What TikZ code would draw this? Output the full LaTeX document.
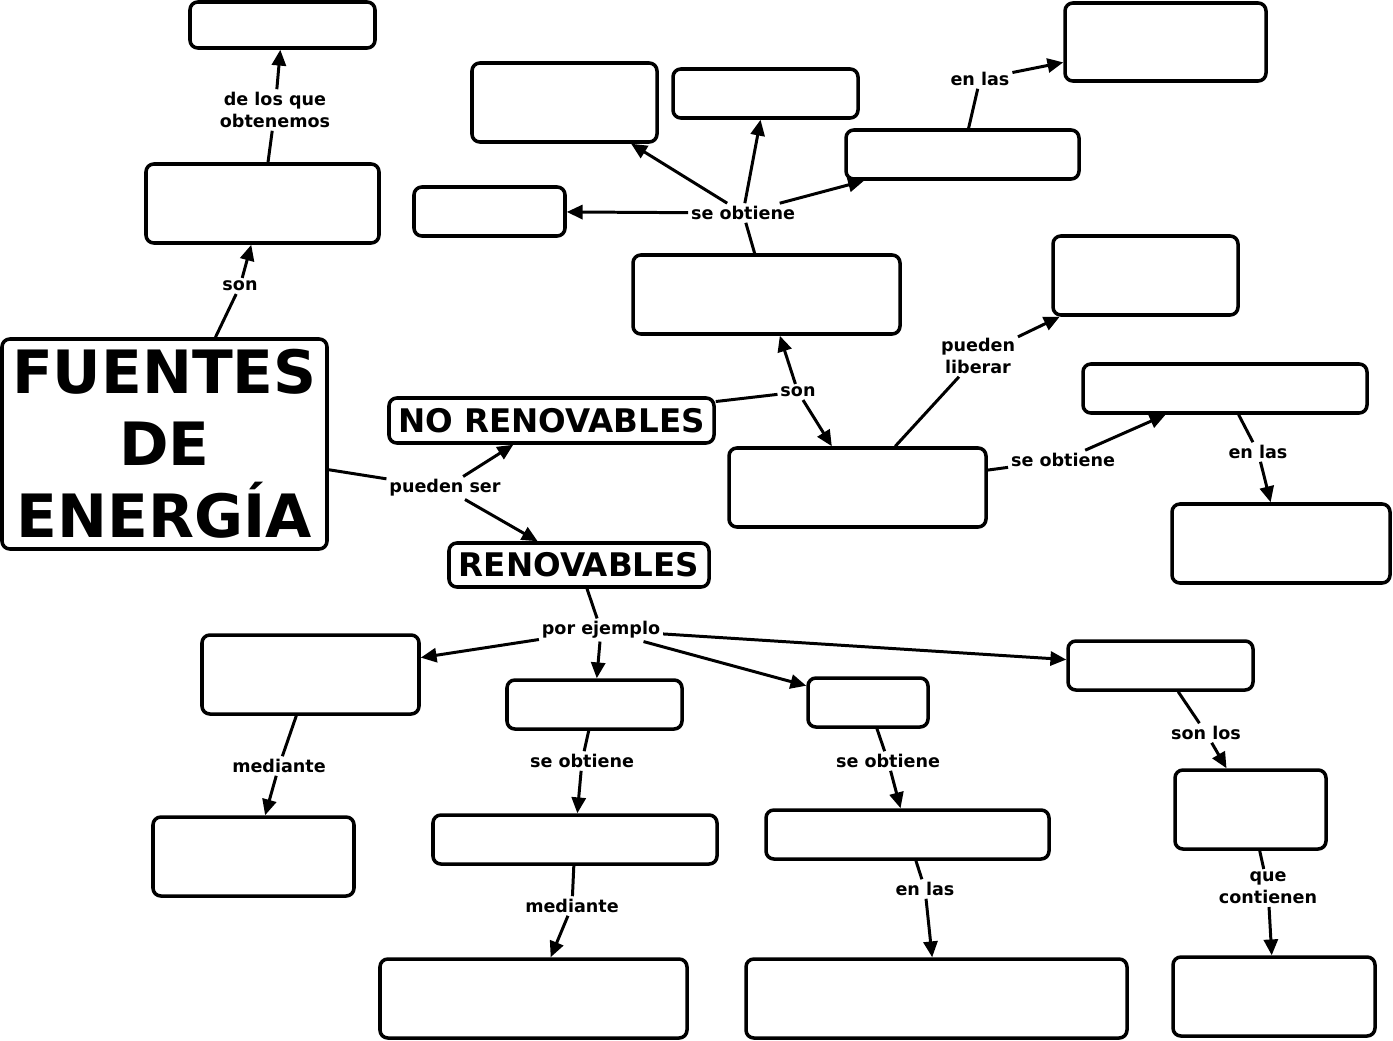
\documentclass[tikz,border=0pt]{standalone}
\usepackage{fontspec}
\setmainfont{DejaVu Sans}
\usetikzlibrary{arrows.meta}
\newcommand\bx[5]{\node[box, minimum width={(#4-#2)*0.02cm}, minimum height={(#5-#3)*0.02cm}] (#1) at ({(#2+#4)/2},{(#3+#5)/2}) {};}
\tikzset{
  box/.style={draw, line width=2pt, rounded corners=4.5pt, inner sep=0pt, fill=white},
  lbl/.style={font=\bfseries\fontsize{10}{12.5}\selectfont, inner sep=1.5pt, align=center},
  con/.style={line width=1.7pt},
  arr/.style={line width=1.7pt, -{Triangle[length=9pt,width=8pt]}}
}
\begin{document}
\begin{tikzpicture}[x=0.02cm,y=-0.02cm]
\useasboundingbox (0,0) rectangle (1393,1041);
% boxes
\bx{A}{190}{2}{375}{48}
\bx{B}{146}{164}{379}{243}
\node[box, minimum width={325*0.02cm}, minimum height={210*0.02cm}, align=center, font=\bfseries\fontsize{34}{41}\selectfont] (F) at (164.5,444) {FUENTES\\DE\\ENERGÍA};
\node[box, minimum width={325*0.02cm}, minimum height={45*0.02cm}, font=\bfseries\fontsize{18.5}{22}\selectfont] (NR) at (551.5,420.5) {NO RENOVABLES};
\node[box, minimum width={260*0.02cm}, minimum height={44*0.02cm}, font=\bfseries\fontsize{18.5}{22}\selectfont] (R) at (579,565) {RENOVABLES};
\bx{b6}{472}{63}{657}{142}
\bx{b7}{673}{69}{858}{118}
\bx{b8}{846}{130}{1079}{179}
\bx{b9}{1065}{3}{1266}{81}
\bx{b10}{414}{187}{565}{236}
\bx{b11}{633}{255}{900}{334}
\bx{b12}{1053}{236}{1238}{315}
\bx{b13}{1083}{364}{1367}{413}
\bx{b14}{729}{448}{986}{527}
\bx{b15}{1172}{504}{1390}{583}
\bx{b16}{202}{635}{419}{714}
\bx{b17}{507}{680}{682}{729}
\bx{b18}{808}{678}{928}{727}
\bx{b19}{1068}{641}{1253}{690}
\bx{b20}{153}{817}{354}{896}
\bx{b21}{433}{815}{717}{864}
\bx{b22}{766}{810}{1049}{859}
\bx{b23}{1175}{770}{1326}{849}
\bx{b24}{380}{959}{687}{1038}
\bx{b25}{746}{959}{1127}{1038}
\bx{b26}{1173}{957}{1375}{1036}
% labels
\node[lbl] (l1) at (275,110) {de los que\\obtenemos};
\node[lbl] (l2) at (240,286) {son};
\node[lbl] (l3) at (445,488) {pueden ser};
\node[lbl] (l4) at (743,213) {se obtiene};
\node[lbl] (l5) at (980,79) {en las};
\node[lbl] (l6) at (798,392) {son};
\node[lbl] (l7) at (978,356) {pueden\\liberar};
\node[lbl] (l8) at (1063,460) {se obtiene};
\node[lbl] (l9) at (1258,452) {en las};
\node[lbl] (l10) at (601,630) {por ejemplo};
\node[lbl] (l11) at (279,766) {mediante};
\node[lbl] (l12) at (582,761) {se obtiene};
\node[lbl] (l13) at (888,761) {se obtiene};
\node[lbl] (l14) at (1206,733) {son los};
\node[lbl] (l15) at (572,906) {mediante};
\node[lbl] (l16) at (925,889) {en las};
\node[lbl] (l17) at (1268,888) {que\\contienen};
% connectors
\draw[con] (B) -- (l1); \draw[arr] (l1) -- (A);
\draw[con] (F) -- (l2); \draw[arr] (l2) -- (B);
\draw[con] (F) -- (l3); \draw[arr] (l3) -- (NR); \draw[arr] (l3) -- (R);
\draw[con] (NR) -- (l6); \draw[arr] (l6) -- (b11); \draw[arr] (l6) -- (b14);
\draw[con] (b11) -- (l4); \draw[arr] (l4) -- (b10); \draw[arr] (l4) -- (b6); \draw[arr] (l4) -- (b7); \draw[arr] (l4) -- (b8);
\draw[con] (b8) -- (l5); \draw[arr] (l5) -- (b9);
\draw[con] (b14) -- (l7); \draw[arr] (l7) -- (b12);
\draw[con] (b14) -- (l8); \draw[arr] (l8) -- (b13);
\draw[con] (b13) -- (l9); \draw[arr] (l9) -- (b15);
\draw[con] (R) -- (l10); \draw[arr] (l10) -- (b16); \draw[arr] (l10) -- (b17); \draw[arr] (l10) -- (b18); \draw[arr] (l10) -- (b19);
\draw[con] (b16) -- (l11); \draw[arr] (l11) -- (b20);
\draw[con] (b17) -- (l12); \draw[arr] (l12) -- (b21);
\draw[con] (b18) -- (l13); \draw[arr] (l13) -- (b22);
\draw[con] (b19) -- (l14); \draw[arr] (l14) -- (b23);
\draw[con] (b21) -- (l15); \draw[arr] (l15) -- (b24);
\draw[con] (b22) -- (l16); \draw[arr] (l16) -- (b25);
\draw[con] (b23) -- (l17); \draw[arr] (l17) -- (b26);
\end{tikzpicture}
\end{document}
